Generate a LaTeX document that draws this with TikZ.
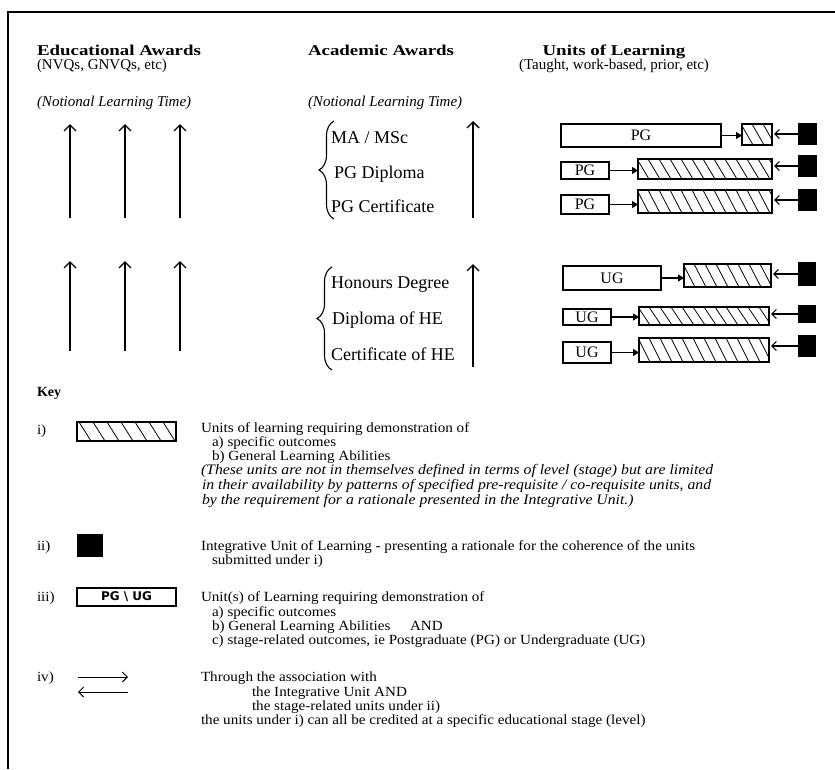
\documentclass[tikz,border=0pt]{standalone}
\usepackage{fontspec}
\setmainfont{Liberation Serif}
\newfontfamily\hdrB[FakeStretch=1.26]{Liberation Serif}
\newfontfamily\keyf[FakeStretch=1.08]{Liberation Serif}
\newfontfamily\keyI[FakeStretch=1.086]{Liberation Serif}
\newfontfamily\handf{DejaVu Sans}
\usetikzlibrary{arrows.meta,decorations.pathreplacing}

\newcommand\ubox[6]{%
  \node[unitbox, minimum width={#4-#2}, minimum height={#5-#3}] (#1) at ({(#2+#4)/2},{(#3+#5)/2}) {#6};}
\newcommand\bsq[5]{%
  \node[blacksq, minimum width={#4-#2}, minimum height={#5-#3}] (#1) at ({(#2+#4)/2},{(#3+#5)/2}) {};}
\newcommand\hatchunit[6]{%
  \node[hatchnode, minimum width={#4-#2}, minimum height={#5-#3}] (#1) at ({(#2+#4)/2},{(#3+#5)/2}) {};
  \begin{scope}
    \clip (#1.south west) rectangle (#1.north east);
    \foreach \i in {0,...,20}{
      \draw[hatchline] ({#2-12+\i*#6},#3) -- ({#2+\i*#6},#5);
    }
  \end{scope}}

\begin{document}
\begin{tikzpicture}[x=1pt,y=-1pt,
  txt/.style={anchor=base west, inner sep=0, outer sep=0},
  hdr/.style={txt, font=\fontsize{15}{18}\selectfont},
  hdrbold/.style={txt, font=\hdrB\bfseries\fontsize{15}{18}\selectfont},
  hdrit/.style={txt, font=\itshape\fontsize{15}{18}\selectfont},
  acad/.style={txt, font=\fontsize{18}{20}\selectfont},
  keyt/.style={txt, font=\keyf\fontsize{14}{15}\selectfont},
  keyit/.style={txt, font=\keyI\itshape\fontsize{14.5}{15}\selectfont},
  keyb/.style={txt, font=\bfseries\fontsize{14}{16}\selectfont},
  unitbox/.style={draw, line width=1.1pt, inner sep=0, outer sep=0, font=\fontsize{16}{16}\selectfont},
  hatchnode/.style={draw, line width=1.1pt, inner sep=0, outer sep=0},
  hatchline/.style={line width=0.8pt},
  blacksq/.style={fill=black, inner sep=0, outer sep=0},
  uparrow/.style={line width=1.4pt, -{Straight Barb[length=6pt,width=12pt]}},
  rarrow/.style={line width=1.2pt, -{Triangle[length=6pt,width=7pt]}},
  larrow/.style={line width=1.2pt, -{Straight Barb[length=4.5pt,width=9pt]}},
  keyarrow/.style={line width=1pt, -{Straight Barb[length=5pt,width=10pt]}},
  bracestyle/.style={line width=1.1pt, decorate, decoration={brace, amplitude=15pt}}
]
\useasboundingbox (0,0) rectangle (835,769);
% frame
\draw[line width=2.5pt] (8,769) -- (8,12) -- (835,12);

% headers
\node[hdrbold] (hEd) at (37,55) {Educational Awards};
\node[hdr] (hEd2) at (37,69) {(NVQs, GNVQs, etc)};
\node[hdrbold] (hAc) at (308,55) {Academic Awards};
\node[hdrbold, anchor=base] (hUn) at (614,55) {Units of Learning};
\node[hdr, anchor=base] (hUn2) at (614,69) {(Taught, work-based, prior, etc)};
\node[hdrit] (nlt1) at (37,106) {(Notional Learning Time)};
\node[hdrit] (nlt2) at (308,106) {(Notional Learning Time)};

% educational arrows
\foreach \xx [count=\k] in {70,125,180}{
  \coordinate (eu\k b) at (\xx,218);
  \coordinate (eu\k t) at (\xx,124);
  \coordinate (el\k b) at (\xx,351);
  \coordinate (el\k t) at (\xx,261);
  \draw[uparrow] (eu\k b) -- (eu\k t);
  \draw[uparrow] (el\k b) -- (el\k t);
}

% academic awards
\coordinate (bu1) at (334,219);
\coordinate (bu2) at (334,121);
\draw[bracestyle] (bu1) -- (bu2);
\node[acad] (ma) at (331,143) {MA / MSc};
\node[acad] (pgd) at (334,178) {PG Diploma};
\node[acad] (pgc) at (331,212) {PG Certificate};
\coordinate (bl1) at (332,370);
\coordinate (bl2) at (332,267);
\draw[bracestyle] (bl1) -- (bl2);
\node[acad] (hon) at (331,288) {Honours Degree};
\node[acad] (dip) at (332,324) {Diploma of HE};
\node[acad] (cert) at (331,360) {Certificate of HE};
\coordinate (au1b) at (473,218);
\coordinate (au1t) at (473,121);
\coordinate (au2b) at (473,367);
\coordinate (au2t) at (473,264);
\draw[uparrow] (au1b) -- (au1t);
\draw[uparrow] (au2b) -- (au2t);

% units of learning rows
\ubox{u1}{561}{124}{721}{147}{PG}
\hatchunit{h1}{742}{124}{772}{145}{11}
\bsq{b1}{798}{123}{817}{145}
\ubox{u2}{561}{162}{609}{179}{PG}
\hatchunit{h2}{638}{159}{772}{179}{11}
\bsq{b2}{798}{155}{817}{177}
\ubox{u3}{561}{195}{609}{214}{PG}
\hatchunit{h3}{638}{190}{772}{213}{11}
\bsq{b3}{798}{189}{817}{211}
\ubox{u4}{563}{266}{661}{290}{UG}
\hatchunit{h4}{684}{264}{771}{287}{11}
\bsq{b4}{798}{262}{816}{286}
\ubox{u5}{563}{309}{611}{325}{UG}
\hatchunit{h5}{639}{307}{769}{325}{11}
\bsq{b5}{798}{305}{816}{323}
\ubox{u6}{563}{342}{611}{363}{UG}
\hatchunit{h6}{639}{338}{769}{362}{11}
\bsq{b6}{798}{335}{816}{357}
\foreach \k in {1,...,6}{
  \draw[rarrow] (u\k.east) -- (h\k.west |- u\k.east);
  \draw[larrow] (b\k.west) -- ([xshift=2pt]h\k.east |- b\k.west);
}

% key
\node[keyb] (key) at (37,396) {Key};
\node[keyt] (ki) at (37,434) {i)};
\hatchunit{kh}{77}{422}{176}{441}{14}
\node[keyt] (k1a) at (201,432) {Units of learning requiring demonstration of};
\node[keyt] (k1b) at (212,446) {a) specific outcomes};
\node[keyt] (k1c) at (212,460) {b) General Learning Abilities};
\node[keyit] (k1d) at (201,474) {(These units are not in themselves defined in terms of level (stage) but are limited};
\node[keyit] (k1e) at (202,489) {in their availability by patterns of specified pre-requisite / co-requisite units, and};
\node[keyit] (k1f) at (202,504) {by the requirement for a rationale presented in the Integrative Unit.)};

\node[keyt] (kii) at (37,550) {ii)};
\bsq{kb}{77}{534}{103}{557}
\node[keyt] (k2a) at (201,550) {Integrative Unit of Learning - presenting a rationale for the coherence of the units};
\node[keyt] (k2b) at (212,564) {submitted under i)};

\node[keyt] (kiii) at (37,601) {iii)};
\node[draw, line width=1.6pt, inner sep=0, minimum width=99pt, minimum height=18pt,
      font=\handf\bfseries\fontsize{12}{12}\selectfont] (kpu) at (126.5,597) {PG \textbackslash{} UG};
\node[keyt] (k3a) at (201,601) {Unit(s) of Learning requiring demonstration of};
\node[keyt] (k3b) at (212,616) {a) specific outcomes};
\node[keyt] (k3c) at (212,630) {b) General Learning Abilities\hspace{1.4em}AND};
\node[keyt] (k3d) at (212,644) {c) stage-related outcomes, ie Postgraduate (PG) or Undergraduate (UG)};

\node[keyt] (kiv) at (37,681) {iv)};
\coordinate (ka1) at (78,677);
\coordinate (ka2) at (128,677);
\coordinate (ka3) at (128,692);
\coordinate (ka4) at (78,692);
\draw[keyarrow] (ka1) -- (ka2);
\draw[keyarrow] (ka3) -- (ka4);
\node[keyt] (k4a) at (201,681) {Through the association with};
\node[keyt] (k4b) at (252,696) {the Integrative Unit AND};
\node[keyt] (k4c) at (252,710) {the stage-related units under ii)};
\node[keyt] (k4d) at (201,724) {the units under i) can all be credited at a specific educational stage (level)};
\end{tikzpicture}
\end{document}
